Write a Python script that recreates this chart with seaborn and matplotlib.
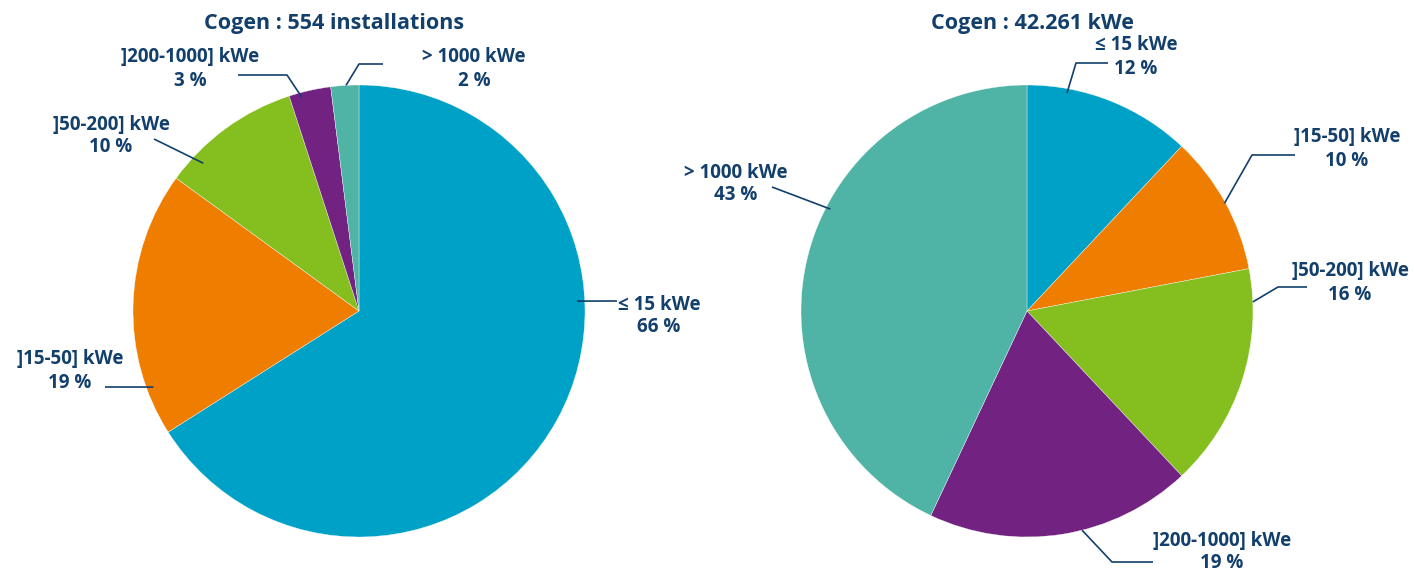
import numpy as np
import matplotlib
matplotlib.use("Agg")
import matplotlib.pyplot as plt
import seaborn as sns

# ---------------- data ----------------
left_title = "Cogen : 554 installations"
left_labels = ["≤ 15 kWe", "]15-50] kWe", "]50-200] kWe", "]200-1000] kWe", "> 1000 kWe"]
left_values = [66, 19, 10, 3, 2]

right_title = "Cogen : 42.261 kWe"
right_labels = ["≤ 15 kWe", "]15-50] kWe", "]50-200] kWe", "]200-1000] kWe", "> 1000 kWe"]
right_values = [12, 10, 16, 19, 43]

colors = ["#00A1C7", "#EF7D00", "#84BF1F", "#722281", "#4FB3A6"]
text_color = "#123F6B"

# ---------------- style ----------------
sns.set_theme(style="white")
plt.rcParams["font.family"] = ["Open Sans", "DejaVu Sans"]

W, H = 1414, 572
fig = plt.figure(figsize=(W / 100, H / 100), dpi=100)
ax = fig.add_axes([0, 0, 1, 1])
ax.set_xlim(0, W)
ax.set_ylim(0, H)
ax.set_aspect("equal")
ax.axis("off")


def P(x, y):
    return (x, H - y)


R = 226

# layout for labels: (anchor angle clockwise from top, anchor radius frac, elbow px, end px, text px)
left_layout = [
    (87.4, 0.965, None, (617, 301), (659, 316)),
    (249.7, 0.97, None, (105, 387), (70, 371)),
    (313.5, 0.95, None, (154, 139), (111, 136)),
    (345.0, 0.98, (287, 75), (238, 75), (190, 69)),
    (356.7, 1.0, (359, 64), (383, 64), (474, 69)),
]
right_layout = [
    (10.4, 0.98, (1076, 63), (1108, 63), (1136, 57)),
    (61.4, 0.995, (1252, 155), (1295, 155), (1347, 149)),
    (87.7, 1.0, (1278, 287), (1307, 287), (1350, 283)),
    (165.9, 1.0, (1112, 562), (1153, 562), (1222, 552)),
    (297.4, 0.98, None, (772, 187), (736, 184)),
]


def draw(center, values, labels, title, layout, title_pos):
    cx, cy = P(*center)
    ax.pie(values, colors=colors, startangle=90, counterclock=False,
           center=(cx, cy), radius=R, frame=True,
           wedgeprops=dict(edgecolor="white", linewidth=0.25))
    ax.text(*P(*title_pos), title, ha="center", va="center", fontsize=15.5,
            fontweight="bold", color=text_color)
    for lab, val, (ang, rf, elbow, end, tpos) in zip(labels, values, layout):
        a = np.deg2rad(ang)
        ax_x = cx + R * rf * np.sin(a)
        ax_y = cy + R * rf * np.cos(a)
        xs = [ax_x]
        ys = [ax_y]
        if elbow is not None:
            ex, ey = P(*elbow)
            xs.append(ex)
            ys.append(ey)
        ex, ey = P(*end)
        xs.append(ex)
        ys.append(ey)
        ax.plot(xs, ys, color=text_color, lw=1.2, solid_capstyle="butt")
        ax.text(*P(*tpos), f"{lab}\n{val} %", ha="center", va="center",
                multialignment="center", fontsize=13.5, fontweight="bold",
                color=text_color, linespacing=1.2)


draw((359, 311), left_values, left_labels, left_title, left_layout, (334, 24))
draw((1027, 311), right_values, right_labels, right_title, right_layout, (1032, 24))

ax.set_xlim(0, W)
ax.set_ylim(0, H)
ax.axis("off")

fig.savefig("out.png", dpi=100, facecolor="white")
